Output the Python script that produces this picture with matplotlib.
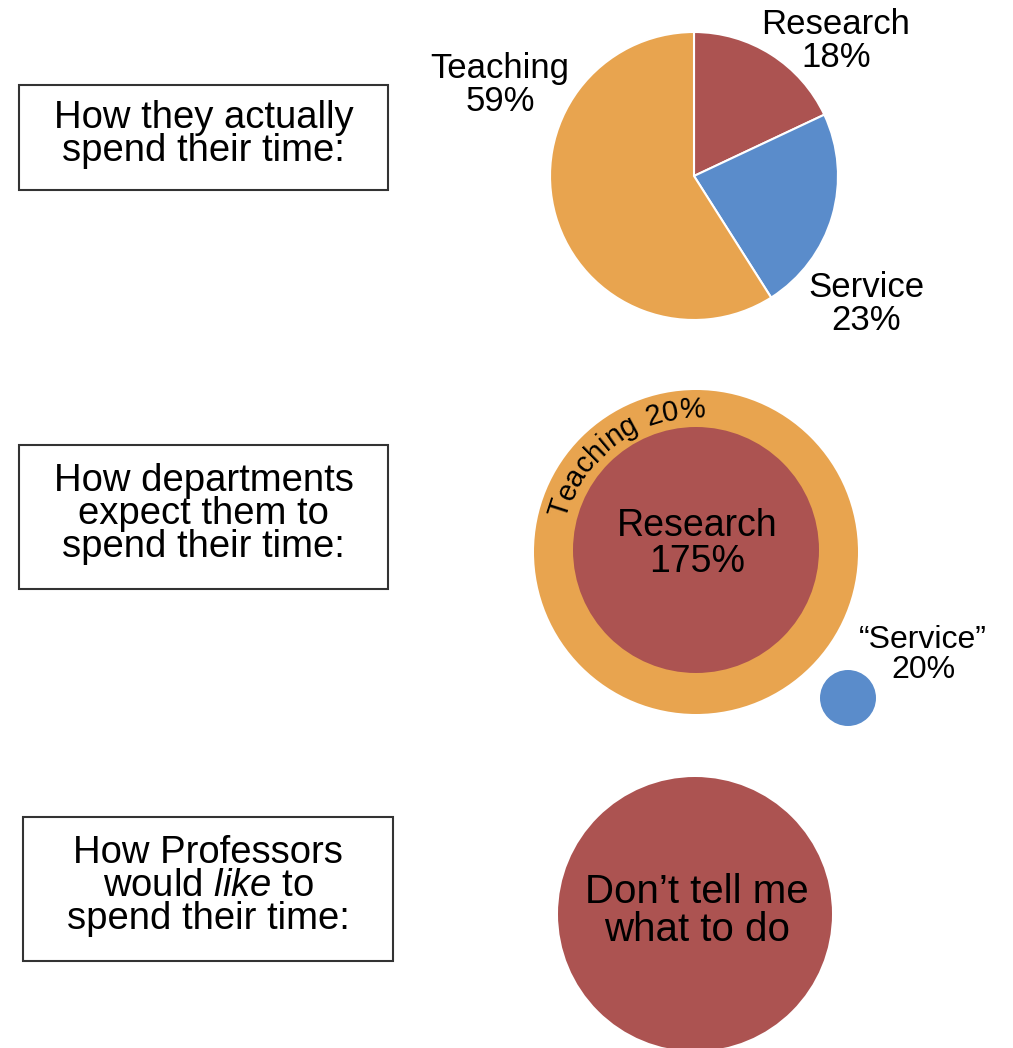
import numpy as np
import matplotlib
matplotlib.use("Agg")
import matplotlib.pyplot as plt
from matplotlib.patches import Circle, Rectangle
from matplotlib.textpath import TextPath
from matplotlib.font_manager import FontProperties

plt.rcParams['font.family'] = ['Liberation Sans', 'DejaVu Sans']
plt.rcParams['mathtext.fontset'] = 'custom'
plt.rcParams['mathtext.rm'] = 'Liberation Sans'
plt.rcParams['mathtext.it'] = 'Liberation Sans:italic'

# data
actual_labels = ["Research", "Service", "Teaching"]
actual_pct = [18, 23, 59]
expected_labels = ["Teaching", "Research", "\u201cService\u201d"]
expected_pct = [20, 175, 20]
wish_text = "Don\u2019t tell me\nwhat to do"
row_titles = ["How they actually\nspend their time:",
              "How departments\nexpect them to\nspend their time:",
              "How Professors\nwould $\\mathit{like}$ to\nspend their time:"]

ORANGE = "#E8A44F"
RED = "#AC5351"
BLUE = "#5A8CCB"

W, H = 1013, 1048
fig = plt.figure(figsize=(W / 100, H / 100), dpi=100)
ax = fig.add_axes([0, 0, 1, 1])

def Y(y):
    return H - y

# row 1 - pie
ax.pie(actual_pct, colors=[RED, BLUE, ORANGE], startangle=90, counterclock=False,
       center=(694, Y(176)), radius=144,
       wedgeprops=dict(edgecolor="white", linewidth=1.5))
pie_lbl_pos = [(836, 41), (866, 304), (500, 85)]
for lab, v, (x, y) in zip(actual_labels, actual_pct, pie_lbl_pos):
    ax.text(x, Y(y), f"{lab}\n{v}%", ha="center", va="center", fontsize=25,
            linespacing=1.03)

# row 2 - circles
ax.add_patch(Circle((696, Y(552)), 162, color=ORANGE, lw=0))
ax.add_patch(Circle((696, Y(550)), 123, color=RED, lw=0))
ax.add_patch(Circle((848, Y(698)), 28, color=BLUE, lw=0))
ax.text(697, Y(544), f"{expected_labels[1]}\n{expected_pct[1]}%", ha="center",
        va="center", fontsize=27, linespacing=1.0)
ax.text(923, Y(655), f"{expected_labels[2]}\n{expected_pct[2]}%", ha="center",
        va="center", fontsize=23, linespacing=1.0)

# curved label along the orange ring
arc_txt = f"{expected_labels[0]} {expected_pct[0]}%"
fp = FontProperties(family="Liberation Sans", size=21)
px = 100 / 72
adv = []
for c in arc_txt:
    if c == " ":
        adv.append(11.0)
        continue
    tp = TextPath((0, 0), c + "|", prop=fp)
    tb = TextPath((0, 0), "|", prop=fp)
    adv.append((tp.get_extents().width - tb.get_extents().width) * px)
r_txt = 145
total = sum(adv) / r_txt
theta = np.deg2rad(126) + total / 2
cx, cy = 696, Y(552)
for c, a in zip(arc_txt, adv):
    mid = theta - a / r_txt / 2
    if c != " ":
        ax.text(cx + r_txt * np.cos(mid), cy + r_txt * np.sin(mid), c,
                rotation=np.rad2deg(mid) - 90, rotation_mode="anchor",
                ha="center", va="center_baseline", fontsize=21)
    theta -= a / r_txt

# row 3
ax.add_patch(Circle((695, Y(914)), 137, color=RED, lw=0))
ax.text(697, Y(911), wish_text, ha="center", va="center", fontsize=29,
        linespacing=1.0)

# title boxes
boxes = [(19, 85, 369, 105), (19, 445, 369, 144), (23, 817, 370, 144)]
for t, (x, y, w, h) in zip(row_titles, boxes):
    ax.add_patch(Rectangle((x, Y(y + h)), w, h, fill=False, ec="#333333", lw=1.5))
    ax.text(x + w / 2, Y(y + h / 2 - 3), t, ha="center", va="center", fontsize=27.5,
            linespacing=0.9)

ax.set_xlim(0, W)
ax.set_ylim(0, H)
ax.axis("off")
fig.savefig("out.png", dpi=100)
